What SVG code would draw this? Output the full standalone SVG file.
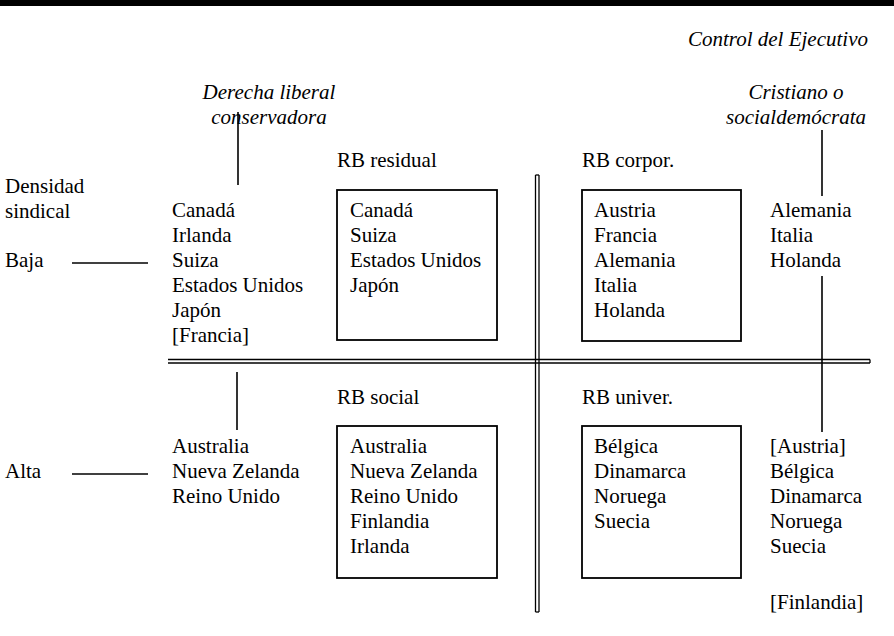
<svg xmlns="http://www.w3.org/2000/svg" width="894" height="636" viewBox="0 0 894 636">
<style>
text{font-family:"Liberation Serif","Times New Roman",serif;font-size:21px;fill:#000}
.it{font-style:italic}
.box{fill:none;stroke:#000;stroke-width:1.8}
.ln{stroke:#000;stroke-width:1.6;fill:none}
.dl{stroke:#000;stroke-width:1.3;fill:none}
</style>
<rect x="0" y="0" width="894" height="6" fill="#000"/>
<g id="connectors">
<line class="ln" x1="238" y1="112" x2="238" y2="185"/>
<line class="ln" x1="822" y1="130" x2="822" y2="196"/>
<line class="ln" x1="72" y1="263" x2="148" y2="263"/>
<line class="ln" x1="72" y1="474" x2="148" y2="474"/>
<line class="ln" x1="237" y1="372" x2="237" y2="430"/>
<line class="ln" x1="822" y1="276" x2="822" y2="432"/>
<g id="axes">
<line class="dl" x1="168" y1="359.5" x2="870" y2="359.5"/>
<line class="dl" x1="168" y1="363" x2="870" y2="363"/>
<line class="dl" x1="870" y1="359.5" x2="870" y2="363"/>
<line class="dl" x1="535.5" y1="175" x2="535.5" y2="612"/>
<line class="dl" x1="539" y1="175" x2="539" y2="612"/>
<line class="dl" x1="535.5" y1="175" x2="539" y2="175"/>
<line class="dl" x1="535.5" y1="612" x2="539" y2="612"/>
</g>
</g>
<g id="title"><text class="it" x="868" y="46" text-anchor="end">Control del Ejecutivo</text></g>
<g id="derecha"><text class="it" x="269" y="99" text-anchor="middle">Derecha liberal</text><text class="it" x="269" y="124" text-anchor="middle">conservadora</text></g>
<g id="cristiano"><text class="it" x="796" y="99" text-anchor="middle">Cristiano o</text><text class="it" x="796" y="124" text-anchor="middle">socialdemócrata</text></g>
<g id="densidad"><text x="5" y="193">Densidad</text><text x="5" y="218">sindical</text></g>
<g id="baja"><text x="5" y="267">Baja</text></g>
<g id="alta"><text x="5" y="478">Alta</text></g>
<g id="col-left-top"><text x="172" y="217">Canadá</text><text x="172" y="242">Irlanda</text><text x="172" y="267">Suiza</text><text x="172" y="292">Estados Unidos</text><text x="172" y="317">Japón</text><text x="172" y="342">[Francia]</text></g>
<g id="rb-residual"><text x="337" y="167">RB residual</text><rect class="box" x="337" y="190" width="160" height="150"/><text x="350" y="217">Canadá</text><text x="350" y="242">Suiza</text><text x="350" y="267">Estados Unidos</text><text x="350" y="292">Japón</text></g>
<g id="rb-corpor"><text x="582" y="167">RB corpor.</text><rect class="box" x="582" y="190" width="159" height="151"/><text x="594" y="217">Austria</text><text x="594" y="242">Francia</text><text x="594" y="267">Alemania</text><text x="594" y="292">Italia</text><text x="594" y="317">Holanda</text></g>
<g id="col-right-top"><text x="770" y="217">Alemania</text><text x="770" y="242">Italia</text><text x="770" y="267">Holanda</text></g>
<g id="col-left-bottom"><text x="172" y="453">Australia</text><text x="172" y="478">Nueva Zelanda</text><text x="172" y="503">Reino Unido</text></g>
<g id="rb-social"><text x="337" y="404">RB social</text><rect class="box" x="337" y="426" width="160" height="152"/><text x="350" y="453">Australia</text><text x="350" y="478">Nueva Zelanda</text><text x="350" y="503">Reino Unido</text><text x="350" y="528">Finlandia</text><text x="350" y="553">Irlanda</text></g>
<g id="rb-univer"><text x="582" y="404">RB univer.</text><rect class="box" x="582" y="426" width="159" height="152"/><text x="594" y="453">Bélgica</text><text x="594" y="478">Dinamarca</text><text x="594" y="503">Noruega</text><text x="594" y="528">Suecia</text></g>
<g id="col-right-bottom"><text x="770" y="453">[Austria]</text><text x="770" y="478">Bélgica</text><text x="770" y="503">Dinamarca</text><text x="770" y="528">Noruega</text><text x="770" y="553">Suecia</text><text x="770" y="609">[Finlandia]</text></g>
</svg>
